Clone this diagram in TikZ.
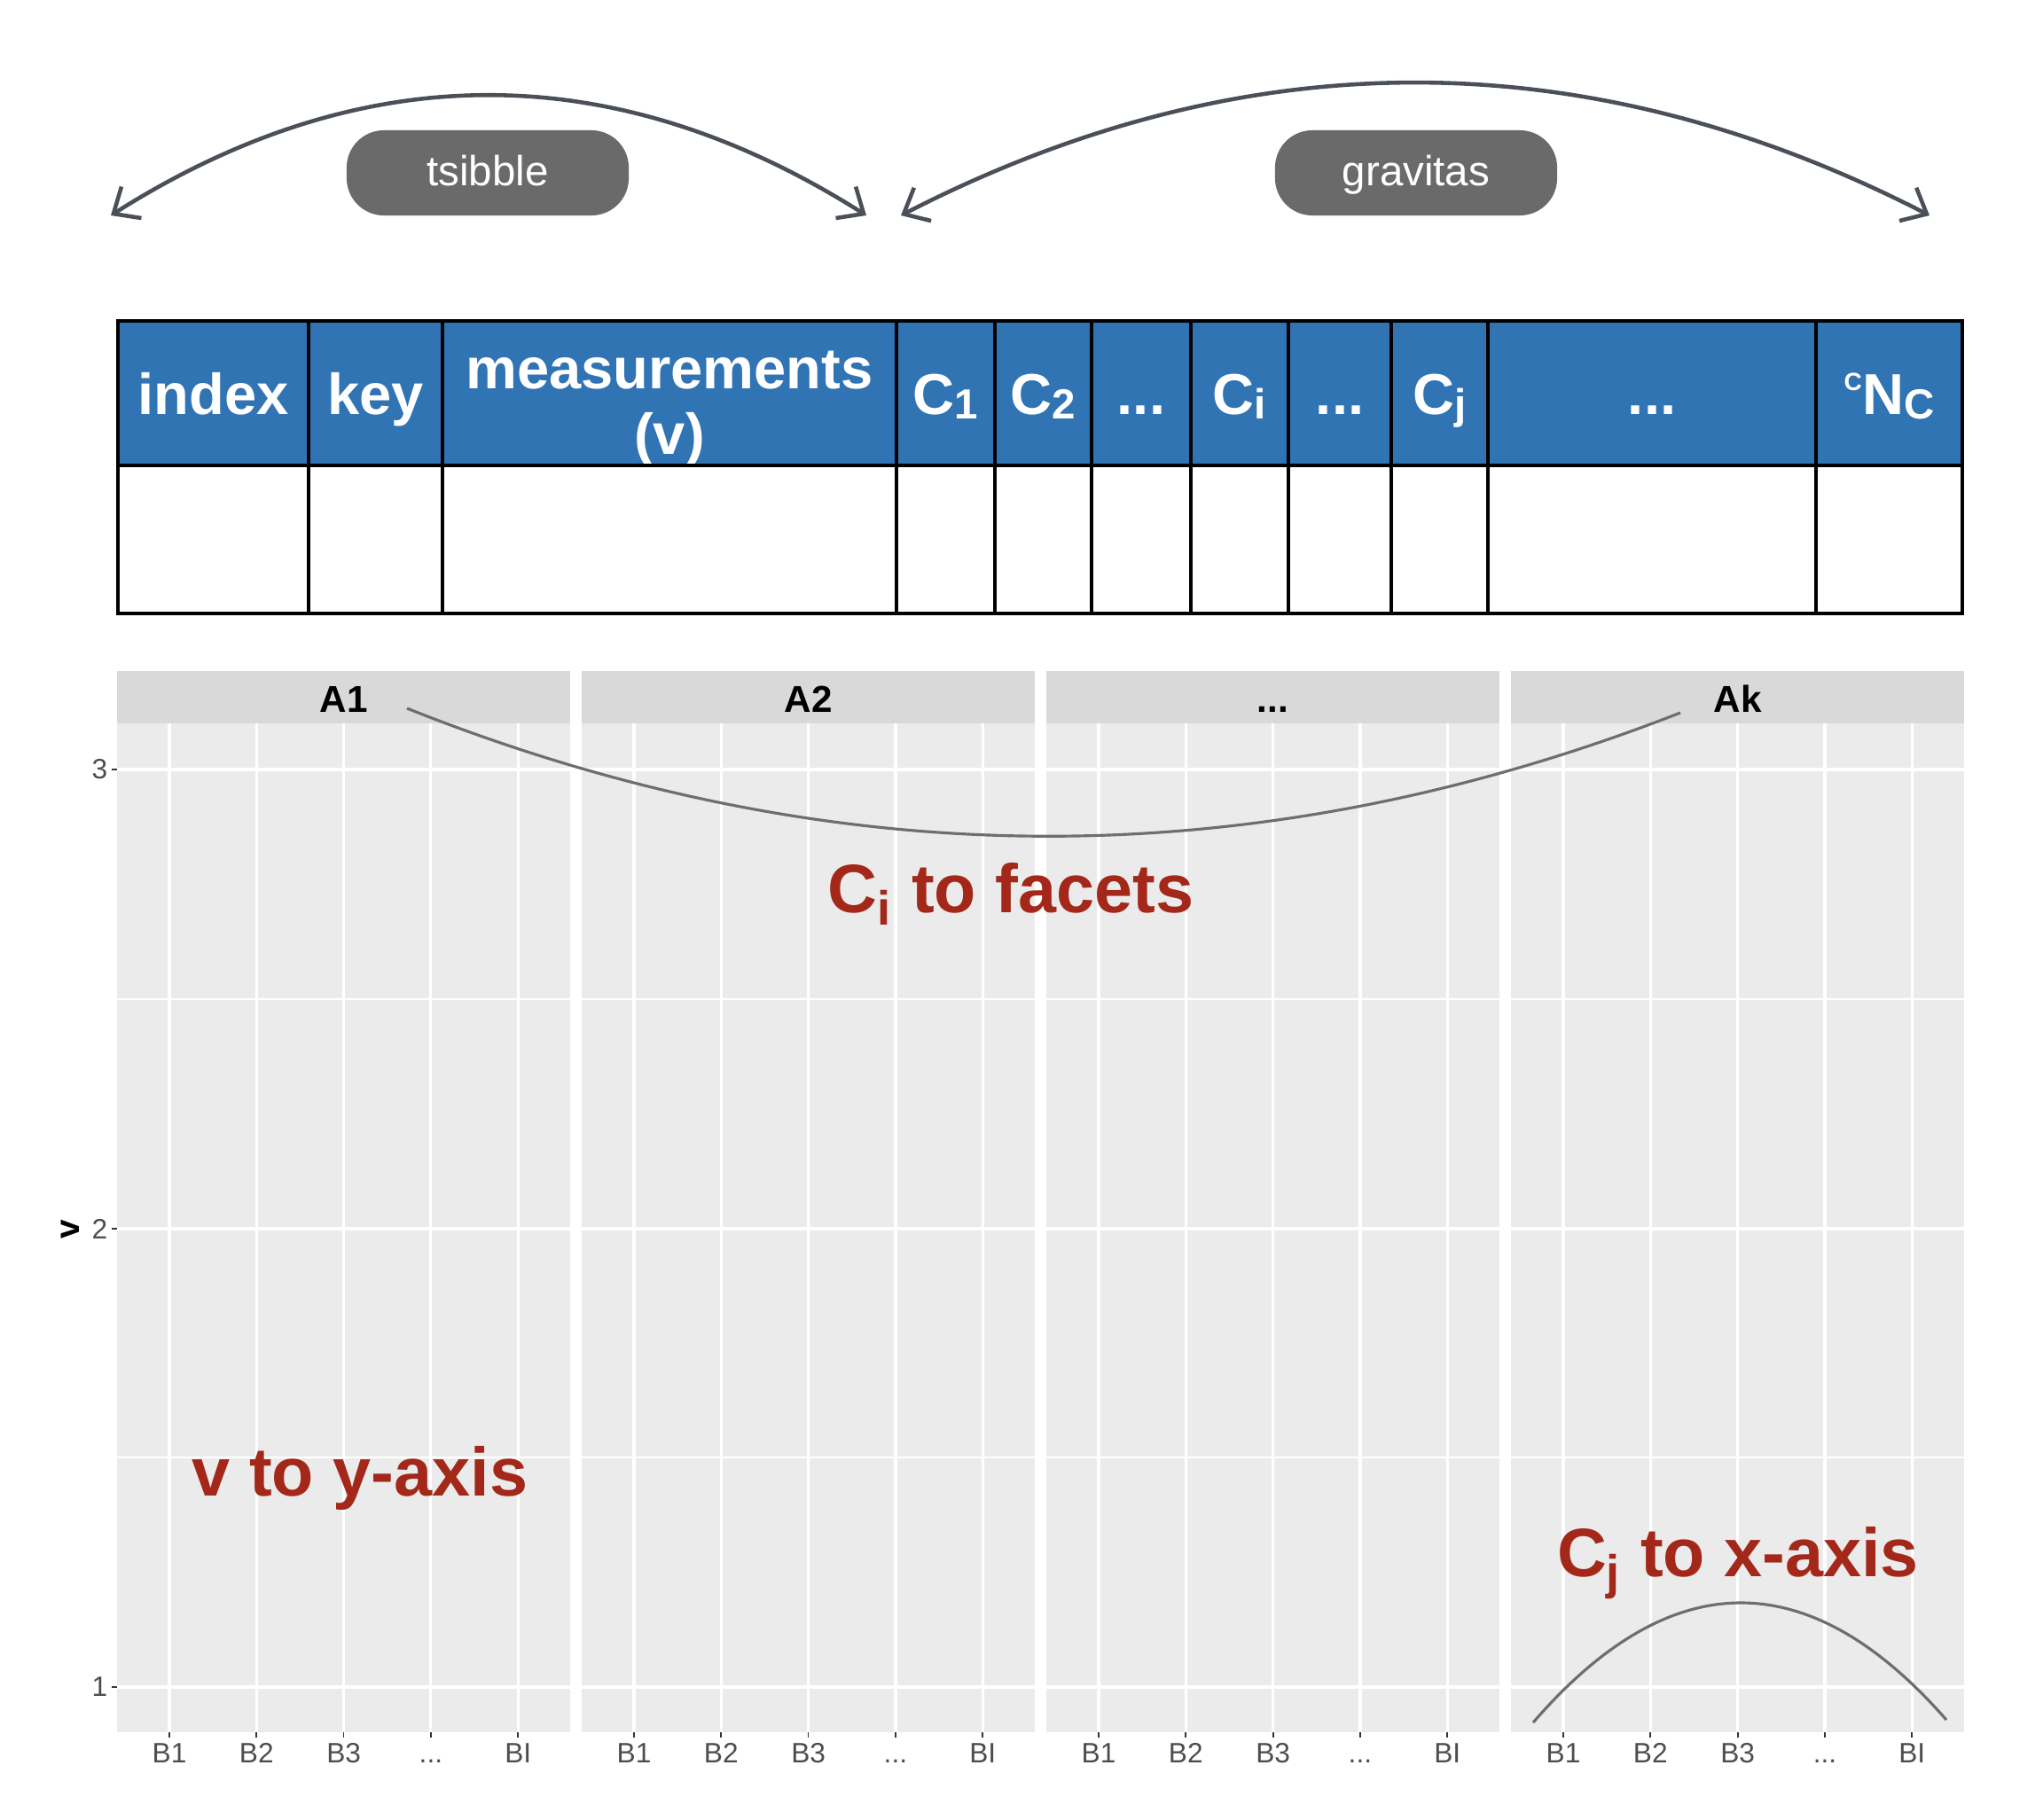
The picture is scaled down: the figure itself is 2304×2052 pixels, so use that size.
\documentclass[tikz,border=0pt]{standalone}
\usepackage{fontspec}
\setmainfont{Liberation Sans}
\usetikzlibrary{arrows.meta,positioning}
\definecolor{tblue}{HTML}{3174B4}
\definecolor{pillgray}{HTML}{6A6A6A}
\definecolor{arrowgray}{HTML}{4B5058}
\definecolor{panelgray}{HTML}{EBEBEB}
\definecolor{stripgray}{HTML}{D9D9D9}
\definecolor{ticktext}{HTML}{4D4D4D}
\definecolor{tickgray}{HTML}{333333}
\definecolor{curvegray}{HTML}{6E6E6E}
\definecolor{mapred}{HTML}{A3281A}
\newcommand{\hsub}[1]{\raisebox{-1.5pt}{\fontsize{13.5}{14}\selectfont #1}}
\newcommand{\hsup}[1]{\raisebox{7.5pt}{\fontsize{8}{8}\selectfont #1}}
\newcommand{\tdots}{...}

\begin{document}
\begin{tikzpicture}[
  x=0.01cm, y=-0.01cm,
  pill/.style={rectangle, rounded corners=4.2mm, fill=pillgray, text=white, minimum width=3.18cm, minimum height=0.96cm, text height=0.85em, text depth=0em, font=\fontsize{13.5}{16}\selectfont},
  hdr/.style={anchor=base, align=center, text=white, inner sep=0pt, font=\bfseries\fontsize{18.5}{21}\selectfont},
  strip label/.style={anchor=base, inner sep=0pt, font=\bfseries\fontsize{12}{14}\selectfont},
  tick label/.style={inner sep=0pt, text=ticktext, font=\fontsize{9}{11}\selectfont},
  map label/.style={anchor=base, inner sep=0pt, text=mapred, font=\bfseries\fontsize{22}{26}\selectfont},
  span arrow/.style={<->, >={Straight Barb[length=2.4mm, width=4.2mm]}, draw=arrowgray, line width=1.3pt},
  map curve/.style={draw=curvegray, line width=0.9pt},
  grid major/.style={white, line width=0.9pt},
  grid minor/.style={white, line width=0.45pt}
]
  \useasboundingbox (0,0) rectangle (2304,2052);

  % package labels and their spans
  \node[pill] (tsibble)  at (550,195)  {tsibble};
  \node[pill] (gravitas) at (1597,195) {gravitas};
  \coordinate (tsL) at (125,243);
  \coordinate (tsR) at (977,243);
  \coordinate (gvL) at (1016,243);
  \coordinate (gvR) at (2176,243);
  \draw[span arrow] (tsL) .. controls (409,63) and (693,63) .. (tsR);
  \draw[span arrow] (gvL) .. controls (1403,44) and (1789,44) .. (gvR);

  % table header and empty row
  \fill[tblue] (133,362) rectangle (2213,525);
  \foreach \xa/\xb/\yb/\lbl [count=\n] in {133/348/467/index, 348/499/467/key,
      499/1011/512/{measurements\\(v)}, 1011/1122/467/C\hsub{1}, 1122/1231/467/C\hsub{2},
      1231/1343/467/\tdots, 1343/1453/467/C\hsub{i}, 1453/1569/467/\tdots,
      1569/1678/467/C\hsub{j}, 1678/2048/467/\tdots, 2048/2213/467/\hsup{C}N\hsub{C}}
    \node[hdr] (hdr\n) at ({(\xa+\xb)/2},\yb) {\lbl};
  \foreach \xc in {348,499,1011,1122,1231,1343,1453,1569,1678,2048}
    \draw[line width=1pt] (\xc,362) -- (\xc,692);
  \draw[line width=1pt] (133,525) -- (2213,525);
  \draw[line width=1.3pt] (133,362) rectangle (2213,692);

  % facet panels
  \foreach \k/\lab in {0/A1,1/A2,2/\tdots,3/Ak}{
    \pgfmathsetmacro{\pl}{132+524*\k}
    \fill[panelgray] (\pl,816) rectangle ++(511,1138);
    \foreach \yy in {1127,1644}
      \draw[grid minor] (\pl,\yy) -- ++(511,0);
    \foreach \yy in {868,1386,1903}
      \draw[grid major] (\pl,\yy) -- ++(511,0);
    \fill[stripgray] (\pl,757) rectangle ++(511,59);
    \node[strip label] (strip\k) at (\pl+255.5,803) {\lab};
    \foreach \blab [count=\i from 0] in {B1,B2,B3,\tdots,BI}{
      \pgfmathsetmacro{\gx}{\pl+59+98.3*\i}
      \draw[grid major] (\gx,816) -- (\gx,1954);
      \draw[tickgray, line width=0.5pt] (\gx,1954) -- (\gx,1960);
      \node[tick label, anchor=base] (xt\k\i) at (\gx,1988) {\blab};
    }
  }

  % y axis
  \foreach \v/\yy in {3/868,2/1386,1/1903}{
    \draw[tickgray, line width=0.5pt] (126,\yy) -- (132,\yy);
    \node[tick label, anchor=east] (yt\v) at (122,\yy) {\v};
  }
  \node[rotate=90, inner sep=0pt, font=\bfseries\fontsize{11}{13}\selectfont] (ytitle) at (79,1387) {v};

  % mappings
  \coordinate (fcL) at (459,799);
  \coordinate (fcR) at (1895,804);
  \draw[map curve] (fcL) .. controls (938,990) and (1416,991) .. (fcR);
  \coordinate (xcL) at (1729,1943);
  \coordinate (xcR) at (2195,1940);
  \draw[map curve] (xcL) .. controls (1884,1764) and (2040,1763) .. (xcR);
  \node[map label] (facetmap) at (1140,1029) {C\textsubscript{i} to facets};
  \node[map label, anchor=base west] (ymap) at (216,1687) {v to y-axis};
  \node[map label] (xmap) at (1960,1778) {C\textsubscript{j} to x-axis};
\end{tikzpicture}
\end{document}
